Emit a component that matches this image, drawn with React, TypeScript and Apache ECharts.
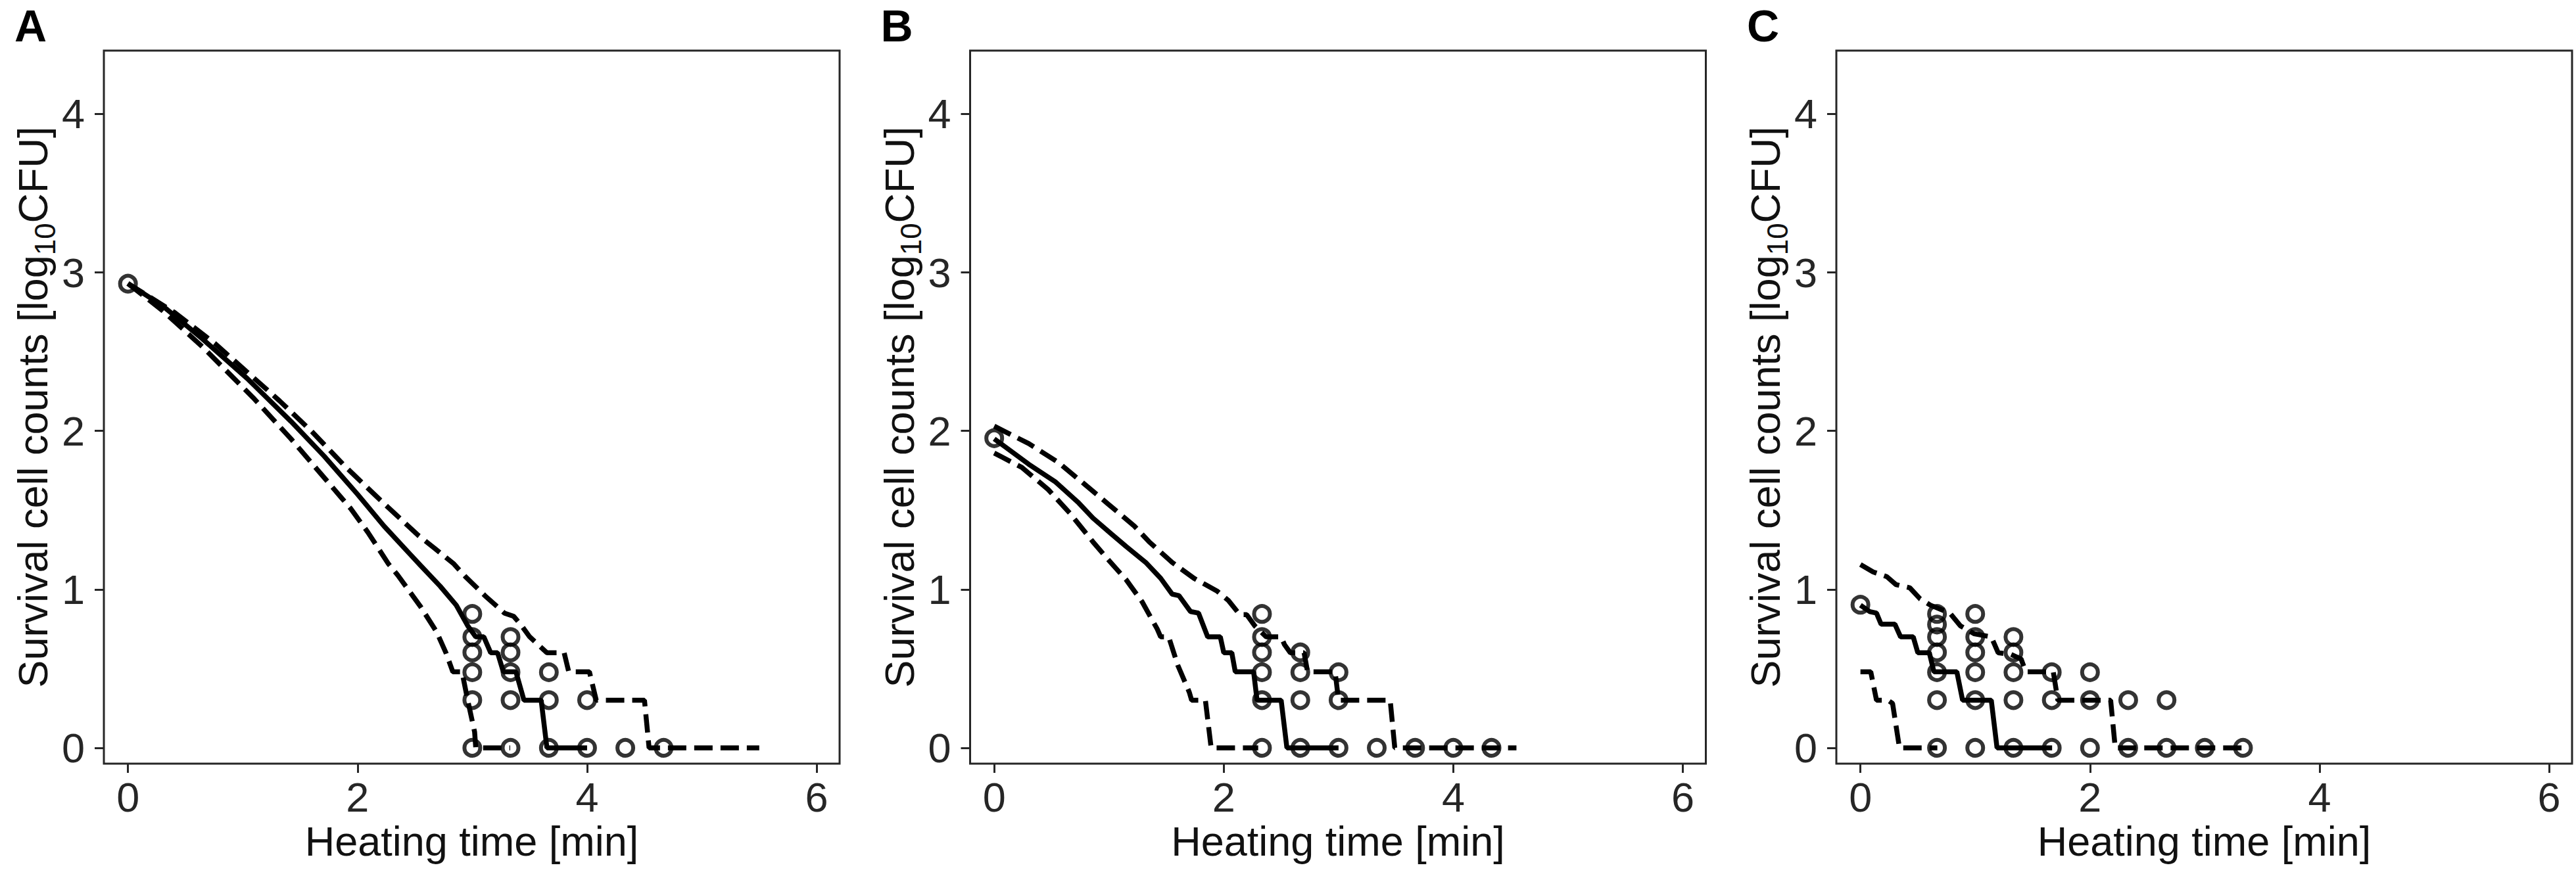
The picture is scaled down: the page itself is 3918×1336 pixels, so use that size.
import React, { useEffect, useRef } from "react";
import * as echarts from "echarts";

// ---------- data ----------
const panelLetters = ["A", "B", "C"];
const xTicks = [0, 2, 4, 6];
const yTicks = [0, 1, 2, 3, 4];
const xName = "Heating time [min]";
const yNameMain = "Survival cell counts [log";
const yNameSub = "10";
const yNameEnd = "CFU]";

// Panel A — observed counts (log10 CFU)
const obsA: number[][] = [
  [0, 2.929],
  [3, 0.845], [3, 0.699], [3, 0.602], [3, 0.477], [3, 0.301], [3, 0],
  [3.333, 0.699], [3.333, 0.602], [3.333, 0.477], [3.333, 0.301], [3.333, 0],
  [3.667, 0.477], [3.667, 0.301], [3.667, 0],
  [4, 0.301], [4, 0],
  [4.333, 0],
  [4.667, 0],
];
const medianA: number[][] = [
  [0, 2.93], [0.3, 2.79], [0.65, 2.58], [1.04, 2.33], [1.42, 2.06], [1.71, 1.84],
  [2.0, 1.6], [2.23, 1.4], [2.46, 1.22], [2.55, 1.15], [2.72, 1.02], [2.86, 0.9],
  [2.96, 0.77], [3.03, 0.7], [3.1, 0.7], [3.16, 0.6], [3.22, 0.6], [3.27, 0.48],
  [3.38, 0.48], [3.45, 0.3], [3.6, 0.3], [3.65, 0], [4.0, 0],
];
const upperA: number[][] = [
  [0, 2.93], [0.4, 2.75], [0.76, 2.55], [1.32, 2.19], [1.61, 1.99], [1.9, 1.77],
  [2.24, 1.535], [2.53, 1.34], [2.67, 1.26], [2.84, 1.16], [2.94, 1.08], [3.11, 0.96],
  [3.28, 0.85], [3.36, 0.83], [3.42, 0.78], [3.5, 0.7], [3.65, 0.6], [3.8, 0.6],
  [3.84, 0.48], [4.02, 0.48], [4.08, 0.3], [4.5, 0.3], [4.54, 0], [5.5, 0],
];
const lowerA: number[][] = [
  [0, 2.93], [0.3, 2.76], [0.65, 2.53], [1.09, 2.21], [1.42, 1.95], [1.65, 1.755],
  [1.94, 1.51], [2.09, 1.36], [2.27, 1.16], [2.35, 1.09], [2.55, 0.89], [2.69, 0.73],
  [2.77, 0.6], [2.83, 0.48], [2.91, 0.48], [2.96, 0.3], [3.02, 0.1], [3.03, 0], [3.33, 0],
];

// Panel B
const obsB: number[][] = [
  [0, 1.954],
  [2.333, 0.845], [2.333, 0.699], [2.333, 0.602], [2.333, 0.477], [2.333, 0.301], [2.333, 0],
  [2.667, 0.602], [2.667, 0.477], [2.667, 0.301], [2.667, 0],
  [3, 0.477], [3, 0.301], [3, 0],
  [3.333, 0], [3.667, 0], [4, 0], [4.333, 0],
];
const medianB: number[][] = [
  [0, 1.95], [0.3, 1.79], [0.53, 1.68], [0.73, 1.55], [0.86, 1.45], [1.02, 1.35],
  [1.15, 1.27], [1.32, 1.17], [1.45, 1.07], [1.55, 0.97], [1.61, 0.96], [1.71, 0.86],
  [1.78, 0.85], [1.86, 0.7], [1.97, 0.7], [2.0, 0.6], [2.07, 0.6], [2.1, 0.48],
  [2.26, 0.48], [2.29, 0.3], [2.5, 0.3], [2.55, 0], [3.0, 0],
];
const upperB: number[][] = [
  [0, 2.03], [0.3, 1.92], [0.56, 1.8], [0.76, 1.68], [0.99, 1.54], [1.22, 1.4],
  [1.35, 1.3], [1.55, 1.17], [1.74, 1.07], [1.84, 1.03], [1.94, 0.99], [2.04, 0.93],
  [2.14, 0.84], [2.2, 0.84], [2.27, 0.77], [2.37, 0.7], [2.5, 0.7], [2.53, 0.65],
  [2.58, 0.6], [2.7, 0.6], [2.73, 0.48], [2.97, 0.48], [3.0, 0.3], [3.45, 0.3],
  [3.49, 0], [4.55, 0],
];
const lowerB: number[][] = [
  [0, 1.86], [0.24, 1.77], [0.47, 1.63], [0.66, 1.48], [0.86, 1.3], [0.99, 1.19],
  [1.15, 1.06], [1.29, 0.92], [1.42, 0.75], [1.45, 0.7], [1.52, 0.7], [1.6, 0.52],
  [1.7, 0.35], [1.72, 0.3], [1.84, 0.3], [1.89, 0], [2.3, 0],
];

// Panel C
const obsC: number[][] = [
  [0, 0.903],
  [0.667, 0.845], [0.667, 0.778], [0.667, 0.699], [0.667, 0.602], [0.667, 0.477], [0.667, 0.301], [0.667, 0],
  [1, 0.845], [1, 0.699], [1, 0.602], [1, 0.477], [1, 0.301], [1, 0],
  [1.333, 0.699], [1.333, 0.602], [1.333, 0.477], [1.333, 0.301], [1.333, 0],
  [1.667, 0.477], [1.667, 0.301], [1.667, 0],
  [2, 0.477], [2, 0.301], [2, 0],
  [2.333, 0.301], [2.333, 0],
  [2.667, 0.301], [2.667, 0],
  [3, 0], [3.333, 0],
];
const medianC: number[][] = [
  [0, 0.9], [0.08, 0.86], [0.14, 0.85], [0.18, 0.78], [0.3, 0.78], [0.35, 0.7],
  [0.46, 0.7], [0.5, 0.6], [0.6, 0.6], [0.64, 0.48], [0.84, 0.48], [0.89, 0.3],
  [1.14, 0.3], [1.19, 0], [1.67, 0],
];
const upperC: number[][] = [
  [0, 1.157], [0.11, 1.11], [0.23, 1.08], [0.31, 1.03], [0.43, 1.01], [0.52, 0.94],
  [0.61, 0.9], [0.78, 0.85], [0.87, 0.77], [0.99, 0.72], [1.14, 0.7], [1.2, 0.6],
  [1.31, 0.59], [1.4, 0.56], [1.44, 0.48], [1.68, 0.48], [1.72, 0.3], [2.18, 0.3],
  [2.22, 0], [3.35, 0],
];
const lowerC: number[][] = [
  [0, 0.48], [0.09, 0.48], [0.14, 0.3], [0.24, 0.3], [0.28, 0.28], [0.34, 0], [0.67, 0],
];

const panels = [
  { obs: obsA, median: medianA, upper: upperA, lower: lowerA },
  { obs: obsB, median: medianB, upper: upperB, lower: lowerB },
  { obs: obsC, median: medianC, upper: upperC, lower: lowerC },
];

// ---------- layout / style ----------
const W = 3918;
const H = 1336;
const FONT = "'Liberation Sans', Arial, Helvetica, sans-serif";
const AXIS_COLOR = "#262626";
const GRID_LEFT0 = 158;
const GRID_STEP = 1317.5;
const GRID_TOP = 77;
const GRID_W = 1119;
const GRID_H = 1085;
const LINE_W = 7.5;
const DASH = [28, 12];

export default function App() {
  const ref = useRef<HTMLDivElement>(null);

  useEffect(() => {
    if (!ref.current) return;
    const chart = echarts.init(ref.current, null, { renderer: "svg", width: W, height: H });

    const grids: any[] = [];
    const xAxes: any[] = [];
    const yAxes: any[] = [];
    const series: any[] = [];
    const graphics: any[] = [];

    panels.forEach((p, i) => {
      const left = GRID_LEFT0 + i * GRID_STEP;
      grids.push({
        left,
        top: GRID_TOP,
        width: GRID_W,
        height: GRID_H,
        show: true,
        borderColor: AXIS_COLOR,
        borderWidth: 3,
        backgroundColor: "#fff",
      });
      xAxes.push({
        type: "value",
        gridIndex: i,
        min: -0.21,
        max: 6.2,
        splitLine: { show: false },
        axisLine: { show: false, onZero: false },
        axisTick: {
          show: true,
          length: 14,
          lineStyle: { color: AXIS_COLOR, width: 3 },
          customValues: xTicks,
        },
        axisLabel: {
          show: true,
          fontSize: 63,
          fontFamily: FONT,
          color: AXIS_COLOR,
          margin: 19,
          customValues: xTicks,
          formatter: (v: number) => String(v),
        },
        name: xName,
        nameLocation: "middle",
        nameGap: 76,
        nameTextStyle: { fontSize: 63, fontFamily: FONT, color: "#111" },
      });
      yAxes.push({
        type: "value",
        gridIndex: i,
        min: -0.1,
        max: 4.4,
        splitLine: { show: false },
        axisLine: { show: false, onZero: false },
        axisTick: {
          show: true,
          length: 14,
          lineStyle: { color: AXIS_COLOR, width: 3 },
          customValues: yTicks,
        },
        axisLabel: {
          show: true,
          fontSize: 63,
          fontFamily: FONT,
          color: AXIS_COLOR,
          margin: 29,
          customValues: yTicks,
          formatter: (v: number) => String(v),
        },
        name: `{a|${yNameMain}}{s|${yNameSub}}{a|${yNameEnd}}`,
        nameLocation: "middle",
        nameRotate: 90,
        nameGap: 58,
        nameTextStyle: {
          fontFamily: FONT,
          color: "#111",
          rich: {
            a: { fontSize: 63, fontFamily: FONT, color: "#111", lineHeight: 80, verticalAlign: "middle" },
            s: { fontSize: 44, fontFamily: FONT, color: "#111", lineHeight: 44, verticalAlign: "bottom" },
          },
        },
      });

      const lineBase = {
        type: "line",
        xAxisIndex: i,
        yAxisIndex: i,
        showSymbol: false,
        symbol: "none",
        smooth: false,
        z: 2,
      };
      series.push({
        ...lineBase,
        name: `median-${i}`,
        data: p.median,
        lineStyle: { color: "#000", width: LINE_W, type: "solid" },
      });
      series.push({
        ...lineBase,
        name: `upper-${i}`,
        data: p.upper,
        lineStyle: { color: "#000", width: LINE_W, type: DASH },
      });
      series.push({
        ...lineBase,
        name: `lower-${i}`,
        data: p.lower,
        lineStyle: { color: "#000", width: LINE_W, type: DASH },
      });
      series.push({
        type: "scatter",
        name: `obs-${i}`,
        xAxisIndex: i,
        yAxisIndex: i,
        data: p.obs,
        symbol: "circle",
        symbolSize: 24,
        itemStyle: { color: "rgba(255,255,255,0)", borderColor: "#000", borderWidth: 6 },
        z: 3,
      });

      graphics.push({
        type: "text",
        x: left - 136,
        y: 5,
        style: {
          text: panelLetters[i],
          fontSize: 68,
          fontWeight: "bold",
          fontFamily: FONT,
          fill: "#000",
          align: "left",
          verticalAlign: "top",
        },
      });
    });

    chart.setOption({
      animation: false,
      backgroundColor: "#fff",
      grid: grids,
      xAxis: xAxes,
      yAxis: yAxes,
      series,
      graphic: graphics,
    });

    return () => chart.dispose();
  }, []);

  return (
    <div
      ref={ref}
      style={{ position: "absolute", left: 0, top: 0, width: W, height: H, background: "#fff" }}
    />
  );
}
